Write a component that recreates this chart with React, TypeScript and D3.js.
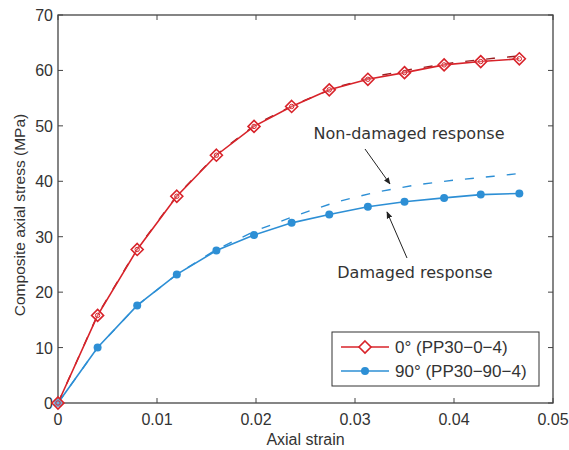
import React from 'react';
import { scaleLinear, line } from 'd3';

const W = 569;
const H = 450;
const RED = '#d8232a';
const BLUE = '#2d8fd5';

const strainPts = [0, 0.004, 0.008, 0.012, 0.016, 0.0198, 0.0236, 0.0274, 0.0313, 0.035, 0.039, 0.0427, 0.0466];
const stress0 = [0, 15.8, 27.7, 37.3, 44.7, 49.9, 53.5, 56.5, 58.4, 59.6, 61.0, 61.6, 62.1];
const stress90 = [0, 10.0, 17.6, 23.2, 27.5, 30.3, 32.5, 34.0, 35.4, 36.3, 37.0, 37.6, 37.8];

const strainModel = [0, 0.004, 0.008, 0.012, 0.016, 0.02, 0.024, 0.028, 0.032, 0.036, 0.04, 0.044, 0.0466];
const model0 = [0, 15.9, 27.8, 37.4, 44.8, 50.3, 53.9, 56.9, 58.9, 60.3, 61.4, 62.2, 62.6];
const model90 = [0, 10.0, 17.6, 23.2, 27.7, 31.1, 33.8, 36.2, 38.0, 39.3, 40.2, 40.9, 41.4];

const xTicks = [0, 0.01, 0.02, 0.03, 0.04, 0.05];
const yTicks = [0, 10, 20, 30, 40, 50, 60, 70];
const legendLabels = ['0° (PP30−0−4)', '90° (PP30−90−4)'];

const AX = "'Liberation Sans', Arial, sans-serif";
const ANN = "'DejaVu Sans', Verdana, sans-serif";

export default function App() {
  const m = { left: 58, right: 553, top: 15, bottom: 403 };
  const x = scaleLinear().domain([0, 0.05]).range([m.left, m.right]);
  const y = scaleLinear().domain([0, 70]).range([m.bottom, m.top]);
  const mk = (xs: number[], ys: number[]) =>
    line<number>().x((_, i) => x(xs[i])).y((d) => y(d))(ys) || '';

  const diamond = (cx: number, cy: number, r: number) =>
    `M${cx},${cy - r}L${cx + r},${cy}L${cx},${cy + r}L${cx - r},${cy}Z`;

  const tl = 5;
  return (
    <svg width={W} height={H} style={{ position: 'fixed', left: 0, top: 0, background: '#fff' }}>
      <defs>
        <marker id="arr" viewBox="0 0 10 10" refX="9" refY="5" markerWidth="7" markerHeight="7" orient="auto">
          <path d="M0,1L10,5L0,9Z" fill="#222" />
        </marker>
      </defs>
      <rect x={m.left} y={m.top} width={m.right - m.left} height={m.bottom - m.top} fill="#fff" stroke="#444" strokeWidth={1.3} />
      {xTicks.map((t) => (
        <g key={'x' + t}>
          <line x1={x(t)} x2={x(t)} y1={m.bottom} y2={m.bottom - tl} stroke="#444" />
          <line x1={x(t)} x2={x(t)} y1={m.top} y2={m.top + tl} stroke="#444" />
          <text x={x(t)} y={m.bottom + 22} textAnchor="middle" fontFamily={AX} fontSize={16} fill="#333">
            {t === 0 ? '0' : String(t)}
          </text>
        </g>
      ))}
      {yTicks.map((t) => (
        <g key={'y' + t}>
          <line x1={m.left} x2={m.left + tl} y1={y(t)} y2={y(t)} stroke="#444" />
          <line x1={m.right} x2={m.right - tl} y1={y(t)} y2={y(t)} stroke="#444" />
          <text x={m.left - 5} y={y(t) + 6} textAnchor="end" fontFamily={AX} fontSize={16} fill="#333">
            {t}
          </text>
        </g>
      ))}
      <text x={(m.left + m.right) / 2} y={445} textAnchor="middle" fontFamily={AX} fontSize={16} fill="#333">
        Axial strain
      </text>
      <text transform={`translate(25,215) rotate(-90)`} textAnchor="middle" fontFamily={AX} fontSize={15.5} fill="#333">
        Composite axial stress (MPa)
      </text>

      <path d={mk(strainModel, model90)} fill="none" stroke={BLUE} strokeWidth={1.4} strokeDasharray="9,12" />
      <path d={mk(strainModel, model0)} fill="none" stroke="#9a1f22" strokeWidth={1.4} strokeDasharray="9,12" />
      <path d={mk(strainPts, stress90)} fill="none" stroke={BLUE} strokeWidth={1.6} />
      <path d={mk(strainPts, stress0)} fill="none" stroke={RED} strokeWidth={1.6} />
      {stress90.map((v, i) => (
        <circle key={'b' + i} cx={x(strainPts[i])} cy={y(v)} r={4} fill={BLUE} />
      ))}
      {stress0.map((v, i) => (
        <g key={'r' + i}>
          <path d={diamond(x(strainPts[i]), y(v), 6)} fill="#fff" fillOpacity={0.3} stroke={RED} strokeWidth={1.6} />
          <circle cx={x(strainPts[i])} cy={y(v)} r={2.2} fill="none" stroke={RED} strokeWidth={1} />
        </g>
      ))}

      <text x={409} y={139} textAnchor="middle" fontFamily={ANN} fontSize={16} fill="#333">
        Non-damaged response
      </text>
      <line x1={365} y1={149} x2={390} y2={184} stroke="#222" strokeWidth={1} markerEnd="url(#arr)" />
      <text x={415} y={278} textAnchor="middle" fontFamily={ANN} fontSize={16} fill="#333">
        Damaged response
      </text>
      <line x1={407} y1={258} x2={387} y2={212} stroke="#222" strokeWidth={1} markerEnd="url(#arr)" />

      <g>
        <rect x={332} y={332} width={207} height={54} fill="#fff" stroke="#333" strokeWidth={1} />
        {legendLabels.map((lab, i) => {
          const ly = 347 + i * 24;
          const color = i === 0 ? RED : BLUE;
          return (
            <g key={lab}>
              <line x1={341} x2={389} y1={ly} y2={ly} stroke={color} strokeWidth={1.6} />
              {i === 0 ? (
                <path d={diamond(365, ly, 6)} fill="#fff" stroke={color} strokeWidth={1.6} />
              ) : (
                <circle cx={365} cy={ly} r={4} fill={color} />
              )}
              <text x={395} y={ly + 6} fontFamily={AX} fontSize={17} fill="#333">
                {lab}
              </text>
            </g>
          );
        })}
      </g>
    </svg>
  );
}
